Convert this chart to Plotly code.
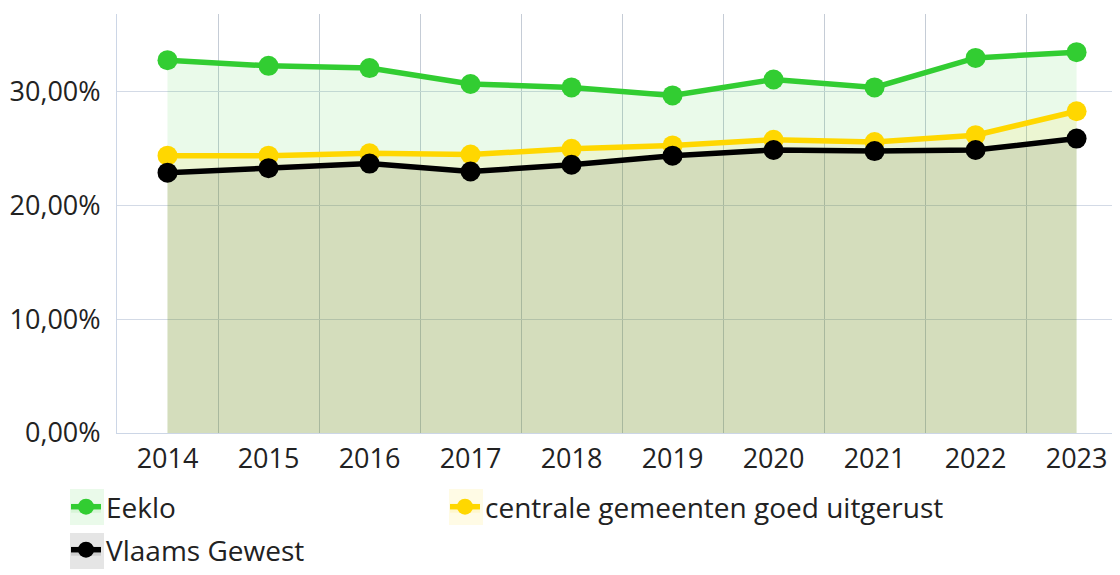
import plotly.graph_objects as go

years = [2014, 2015, 2016, 2017, 2018, 2019, 2020, 2021, 2022, 2023]
eeklo = [32.8, 32.3, 32.1, 30.7, 30.4, 29.7, 31.1, 30.4, 33.0, 33.5]
centrale = [24.4, 24.4, 24.6, 24.5, 25.0, 25.3, 25.8, 25.6, 26.2, 28.3]
vlaams = [22.9, 23.3, 23.7, 23.0, 23.6, 24.4, 24.9, 24.8, 24.9, 25.9]
y_ticks = [0, 10, 20, 30]
y_tick_labels = ["0,00%", "10,00%", "20,00%", "30,00%"]

FONT = "Open Sans, Segoe UI, sans-serif"
# page body has an 8px margin; figure is sized/offset to compensate
W, H = 1112, 567
ML, MT, MB = 109, 6, 142
PW, PH = W - ML, H - MT - MB

series = [
    ("Eeklo", eeklo, "#32cd32", "rgba(50,205,50,0.1)", "legend"),
    ("centrale gemeenten goed uitgerust", centrale, "#ffd700", "rgba(255,215,0,0.1)", "legend3"),
    ("Vlaams Gewest", vlaams, "#000000", "rgba(0,0,0,0.1)", "legend2"),
]
# legend placement (figure pixels): x of legend, y of row centre
legend_pos = {"legend": (58, 499), "legend3": (437, 499), "legend2": (58, 543)}
ICON_DX = 22

fig = go.Figure()
shapes = []
for name, vals, col, fill, lg in series:
    fig.add_trace(go.Scatter(
        x=years, y=vals, name=name, mode="lines+markers",
        line=dict(color=col, width=5.5),
        marker=dict(color=col, size=20),
        fill="tozeroy", fillcolor=fill,
        legend=lg,
    ))
    lx, ly = legend_pos[lg]
    cx = lx + ICON_DX
    shapes.append(dict(
        type="rect", xref="paper", yref="paper", layer="below",
        x0=(cx - 18 - ML) / PW, x1=(cx + 16 - ML) / PW,
        y0=(MT + PH - (ly - 18)) / PH, y1=(MT + PH - (ly + 18)) / PH,
        fillcolor=fill, line=dict(width=0),
    ))

def leg(key, anchor="middle"):
    xpx, ypx = legend_pos[key]
    return dict(
        orientation="h", xref="container", yref="container",
        x=xpx / W, y=(H - ypx) / H, xanchor="left", yanchor=anchor,
        font=dict(size=28, color="#222222"),
        bgcolor="rgba(0,0,0,0)",
    )

leg2 = leg("legend2")
leg2.update(y=0, yanchor="bottom")

fig.update_layout(
    width=W, height=H,
    margin=dict(l=ML, r=0, t=MT, b=MB),
    paper_bgcolor="white", plot_bgcolor="white",
    font=dict(family=FONT, size=27, color="#222222"),
    xaxis=dict(
        range=[2013.5, 2023.43],
        tickvals=years, ticktext=[str(y) for y in years],
        showgrid=False, zeroline=False,
        showline=True, linecolor="#ccd6e6", linewidth=1,
        ticks="", ticklabelstandoff=2,
        minor=dict(tickmode="linear", tick0=2013.5, dtick=1,
                   showgrid=True, gridcolor="#c5ccd6", gridwidth=1, ticks=""),
    ),
    yaxis=dict(
        range=[0, 36.86],
        tickvals=y_ticks, ticktext=y_tick_labels,
        showgrid=True, gridcolor="#d3dae6", gridwidth=1,
        zeroline=False, showline=True, linecolor="#ccd6e6", linewidth=1,
        ticks="", ticklabelstandoff=10,
    ),
    legend=leg("legend"),
    legend3=leg("legend3"),
    legend2=leg2,
    shapes=shapes,
    showlegend=True,
)

fig.write_html("out.html")
